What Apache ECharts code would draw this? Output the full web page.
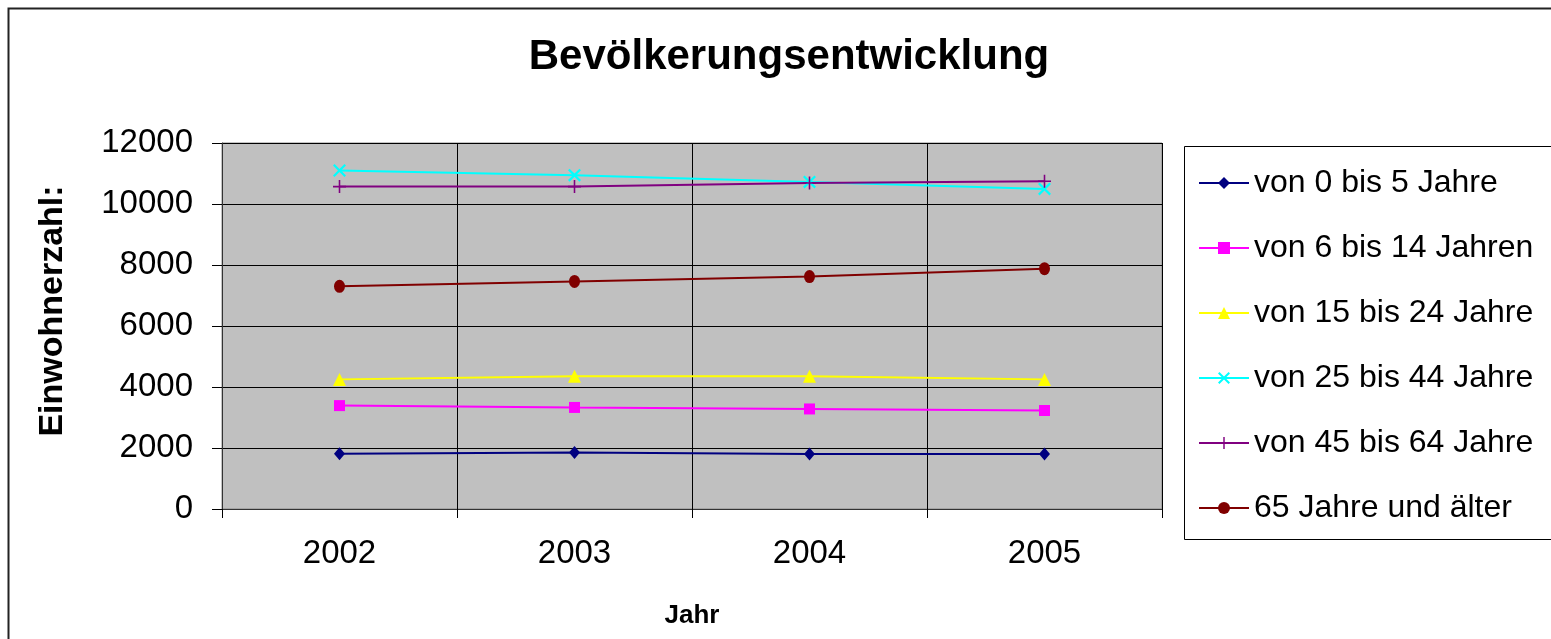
<!DOCTYPE html>
<html>
<head>
<meta charset="utf-8">
<script src="https://cdn.jsdelivr.net/npm/echarts@6/dist/echarts.min.js"></script>
<style>
  html, body { margin: 0; padding: 0; background: #fff; }
  #main { width: 1551px; height: 639px; }
</style>
</head>
<body>
<div id="main"></div>
<script>
// Daten
var jahre = ['2002', '2003', '2004', '2005'];
var yTicks = [0, 2000, 4000, 6000, 8000, 10000, 12000];

var namen = [
  'von 0 bis 5 Jahre',
  'von 6 bis 14 Jahren',
  'von 15 bis 24 Jahre',
  'von 25 bis 44 Jahre',
  'von 45 bis 64 Jahre',
  '65 Jahre und älter'
];
var bis5 = [1810, 1855, 1800, 1800];
var bis14 = [3390, 3330, 3280, 3230];
var bis24 = [4250, 4350, 4350, 4250];
var bis44 = [11100, 10945, 10725, 10495];
var bis64 = [10570, 10570, 10690, 10745];
var ab65 = [7300, 7460, 7620, 7880];

var farben = ['#000080', '#ff00ff', '#ffff00', '#00ffff', '#800080', '#800000'];
var kreuz = 'path://M0,1.2L1.2,0L5,3.8L8.8,0L10,1.2L6.2,5L10,8.8L8.8,10L5,6.2L1.2,10L0,8.8L3.8,5Z';
var plus = 'path://M4.4,0H5.6V4.4H10V5.6H5.6V10H4.4V5.6H0V4.4H4.4Z';
var symbole = ['diamond', 'rect', 'triangle', kreuz, plus, 'circle'];
var groessen = [[11, 13], 11, 13, 13, 13, [11, 13]];
var werte = [bis5, bis14, bis24, bis44, bis64, ab65];

var font = '"Liberation Sans", Arial, sans-serif';

var myChart = echarts.init(document.getElementById('main'));

var serien = werte.map(function (d, i) {
  return {
    name: namen[i],
    type: 'line',
    data: d,
    symbol: symbole[i],
    symbolSize: groessen[i],
    showSymbol: true,
    lineStyle: { color: farben[i], width: 2 },
    itemStyle: { color: farben[i] },
    animation: false
  };
});

var option = {
  animation: false,
  backgroundColor: '#fff',
  title: {
    text: 'Bevölkerungsentwicklung',
    left: 784,
    top: 31,
    textAlign: 'center',
    textStyle: { fontFamily: font, fontSize: 42, fontWeight: 'bold', color: '#000' }
  },
  graphic: [
    {
      type: 'rect',
      shape: { x: 8.5, y: 8.5, width: 1600, height: 700 },
      style: { fill: 'transparent', stroke: '#222', lineWidth: 2 },
      silent: true
    },
    {
      type: 'rect',
      shape: { x: 1184.5, y: 146.5, width: 400, height: 393 },
      style: { fill: 'transparent', stroke: '#000', lineWidth: 1 },
      silent: true
    }
  ],
  legend: {
    orient: 'vertical',
    left: 1193,
    top: 162,
    itemWidth: 50,
    itemHeight: 15,
    itemGap: 33,
    textStyle: { fontFamily: font, fontSize: 32, color: '#000' },
    data: namen
  },
  grid: {
    left: 222,
    right: 389,
    top: 143,
    bottom: 130,
    show: true,
    backgroundColor: '#c0c0c0',
    borderColor: '#888',
    borderWidth: 1
  },
  xAxis: {
    type: 'category',
    data: jahre,
    boundaryGap: true,
    name: 'Jahr',
    nameLocation: 'middle',
    nameGap: 94,
    nameTextStyle: { fontFamily: font, fontSize: 26, fontWeight: 'bold', color: '#000' },
    axisLine: { lineStyle: { color: '#333', width: 1 } },
    axisTick: { show: true, length: 9, lineStyle: { color: '#000' } },
    axisLabel: { fontFamily: font, fontSize: 33, color: '#000', margin: 28 },
    splitLine: { show: true, lineStyle: { color: '#000', width: 1 } }
  },
  yAxis: {
    type: 'value',
    min: yTicks[0],
    max: yTicks[yTicks.length - 1],
    interval: 2000,
    name: 'Einwohnerzahl:',
    nameLocation: 'middle',
    nameGap: 152,
    nameTextStyle: {
      fontFamily: font, fontSize: 34, fontWeight: 'bold', color: '#000',
      padding: [0, 0, 0, 30]
    },
    axisLine: { show: true, lineStyle: { color: '#333', width: 1 } },
    axisTick: { show: true, length: 10, lineStyle: { color: '#000' } },
    axisLabel: {
      fontFamily: font, fontSize: 33, color: '#000', margin: 29,
      formatter: function (v) { return String(v); }
    },
    splitLine: { show: true, lineStyle: { color: '#000', width: 1 } }
  },
  series: serien
};

myChart.setOption(option);
</script>
</body>
</html>
